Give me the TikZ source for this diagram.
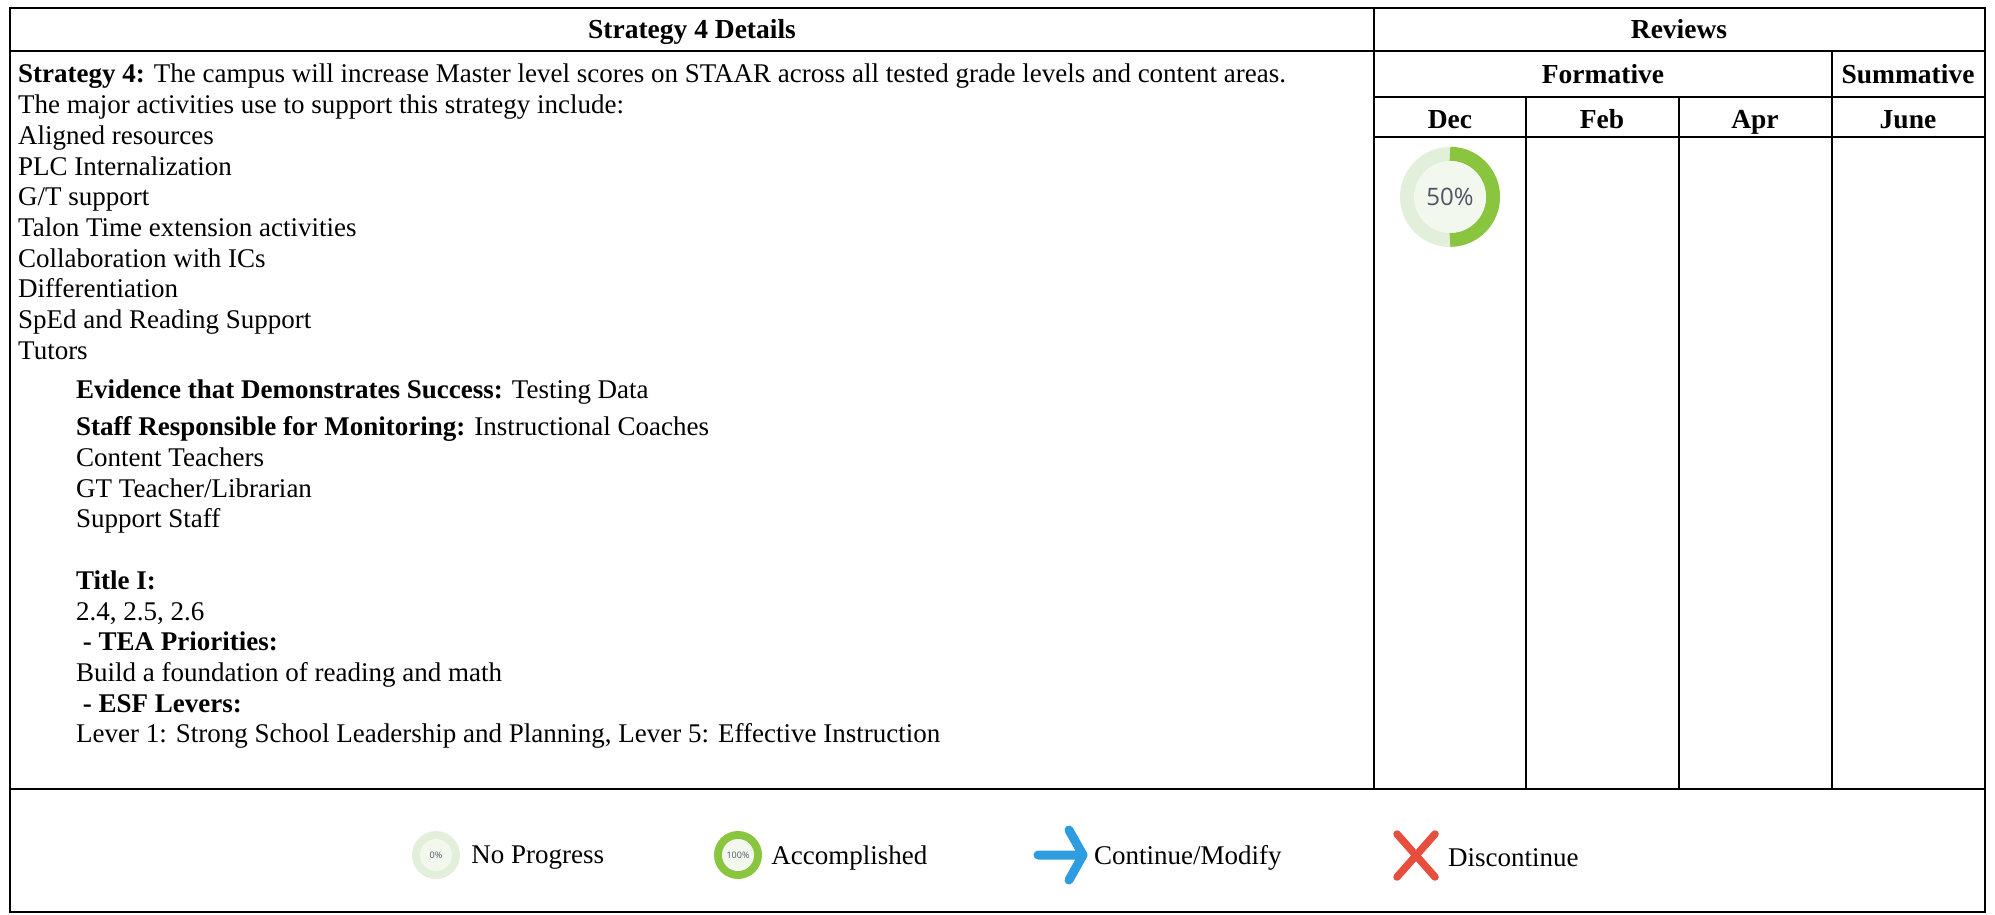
\documentclass[tikz,border=0pt]{standalone}
\usepackage{fontspec}
\setmainfont{Liberation Serif}
\newfontfamily\pctfont{Open Sans}
\usetikzlibrary{positioning}
\definecolor{ringLight}{RGB}{226,239,218}
\definecolor{ringCore}{RGB}{242,248,238}
\definecolor{ringGreen}{RGB}{138,197,64}
\definecolor{pctGray}{RGB}{80,84,100}
\definecolor{arrowBlue}{RGB}{45,157,224}
\definecolor{crossRed}{RGB}{230,78,62}
\tikzset{%
  % Specifications for style of nodes:
       txt/.style = {inner sep=0pt, font=\fontsize{27}{30.7}\selectfont},
      head/.style = {inner sep=0pt, anchor=base, font=\fontsize{27.5}{30.7}\selectfont\bfseries},
     block/.style = {txt, align=left, anchor=north west},
    legend/.style = {txt, anchor=base west},
  ringBase/.style = {circle, fill=ringLight, inner sep=0pt},
  ringCore/.style = {circle, fill=ringCore, inner sep=0pt, text=pctGray},
      grid/.style = {line width=2.4pt, line cap=rect},
}
\begin{document}
\begin{tikzpicture}[x=1pt, y=-1pt]
  \useasboundingbox (0,0) rectangle (1995,915);
  % Specification of the table frame
  \draw[grid] (10,8) rectangle (1985,912);
  \draw[grid] (10,51) -- (1985,51);
  \draw[grid] (1374,97) -- (1985,97);
  \draw[grid] (1374,137) -- (1985,137);
  \draw[grid] (10,789) -- (1985,789);
  \draw[grid] (1374,8) -- (1374,789);
  \draw[grid] (1832,51) -- (1832,789);
  \foreach \x in {1526,1679}
    \draw[grid] (\x,97) -- (\x,789);

  % Specification of header nodes
  \node (details)   [head] at (692,39)  {Strategy 4 Details};
  \node (reviews)   [head] at (1679,39) {Reviews};
  \node (formative) [head] at (1603,84) {Formative};
  \node (summative) [head] at (1908,84) {Summative};
  \node (dec)       [head] at (1450,129) {Dec};
  \node (feb)       [head] at (1602,129) {Feb};
  \node (apr)       [head] at (1755,129) {Apr};
  \node (june)      [head] at (1908,129) {June};

  % Specification of the strategy text
  \node (strategyText) [block] at (18,64) {%
    \textbf{Strategy 4:} The campus will increase Master level scores on STAAR across all tested grade levels and content areas.\\
    The major activities use to support this strategy include:\\
    Aligned resources\\
    PLC Internalization\\
    G/T support\\
    Talon Time extension activities\\
    Collaboration with ICs\\
    Differentiation\\
    SpEd and Reading Support\\
    Tutors};
  \node (evidenceText) [block] at (76,380) {%
    \textbf{Evidence that Demonstrates Success:} Testing Data\\[6pt]
    \textbf{Staff Responsible for Monitoring:} Instructional Coaches\\
    Content Teachers\\
    GT Teacher/Librarian\\
    Support Staff\\[31pt]
    \textbf{Title I:}\\
    2.4, 2.5, 2.6\\
    \ \textbf{- TEA Priorities:}\\
    Build a foundation of reading and math\\
    \ \textbf{- ESF Levers:}\\
    Lever 1: Strong School Leadership and Planning, Lever 5: Effective Instruction};

  % Specification of the December review (50%)
  \node (decRing) [ringBase, minimum size=100pt] at (1450,197) {};
  \draw[ringGreen, line width=14pt] ([yshift=-7pt]decRing.north) arc (90:-90:43pt);
  \node (decCore) [ringCore, minimum size=72pt, font=\pctfont\fontsize{24}{24}\selectfont] at (decRing) {50\%};

  % Specification of the legend
  \coordinate (legendBase) at (0,858);
  \node (zeroRing) [ringBase, minimum size=48pt] at (436,855) {};
  \node (zeroCore) [ringCore, minimum size=32pt, font=\pctfont\fontsize{9}{9}\selectfont] at (zeroRing) {0\%};
  \node (zeroText) [legend, right=11pt of zeroRing.east |- legendBase] {No Progress};

  \node (fullRing) [ringBase, minimum size=48pt, fill=ringGreen] at (738,855) {};
  \node (fullCore) [ringCore, minimum size=32pt, font=\pctfont\fontsize{9}{9}\selectfont] at (fullRing) {100\%};
  \node (fullText) [legend, right=9pt of fullRing.east |- legendBase] {Accomplished};

  \coordinate (arrowTail) at (1038,855);
  \coordinate (arrowTip)  at (1083,855);
  \draw[arrowBlue, line width=9pt, line cap=round, line join=round]
    (arrowTail) -- (arrowTip) (1069,830) -- (arrowTip) -- (1069,880);
  \node (contText) [legend, right=11pt of arrowTip |- legendBase] {Continue/Modify};

  \coordinate (crossA) at (1397,834);
  \coordinate (crossB) at (1435,877);
  \draw[crossRed, line width=7.5pt, line cap=round]
    (crossA) -- (crossB) (crossA |- crossB) -- (crossB |- crossA);
  \node (discText) [legend, right=13pt of crossB |- legendBase] {Discontinue};
\end{tikzpicture}
\end{document}
